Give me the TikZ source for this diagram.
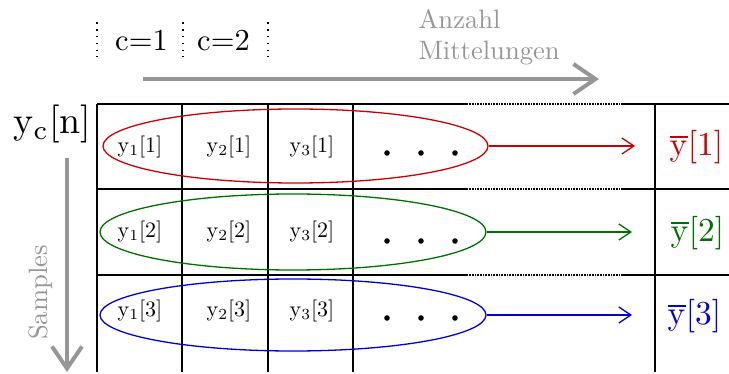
\documentclass[tikz,border=0pt]{standalone}
\usetikzlibrary{shapes.geometric,arrows.meta}
\definecolor{cred}{RGB}{204,0,0}
\definecolor{cgreen}{RGB}{0,112,0}
\definecolor{cblue}{RGB}{0,0,210}
\definecolor{cgray}{RGB}{150,150,150}
\begin{document}
\begin{tikzpicture}[x=1pt,y=-1pt,
  grid/.style={line width=1.2pt,black},
  gridfine/.style={line width=1.2pt,black,dash pattern=on 0.8pt off 0.8pt},
  topdot/.style={line width=1.3pt,black,dash pattern=on 1.3pt off 5.5pt},
  cell/.style={inner sep=0pt,anchor=base,scale=2.2},
  res/.style={inner sep=0pt,anchor=base,scale=3.35},
  ring/.style={ellipse,draw,line width=1.3pt,inner sep=0pt},
  outarrow/.style={line width=1.3pt,-{Straight Barb[length=12pt,width=16pt]}},
  bigarrow/.style={line width=4pt,cgray,-{Straight Barb[length=22pt,width=30pt]}},
  graytext/.style={cgray,inner sep=0pt,scale=2.66},
  dotmark/.style={circle,fill=black,inner sep=0pt,minimum size=5.6pt}]
\useasboundingbox (0,0) rectangle (729,374);

% table
\foreach \x in {97,182,268,353,655}
  \draw[grid] (\x,104) -- (\x,372);
\foreach \y in {104,189,275}{
  \draw[grid] (97,\y) -- (467,\y);
  \draw[gridfine] (467,\y) -- (622,\y);
  \draw[grid] (622,\y) -- (729,\y);
}

% top column markers
\foreach \x in {97,183,268}
  \draw[topdot] (\x,22.5) -- (\x,57);
\node[inner sep=0pt,anchor=base,scale=3.05] (c1) at (141.5,51) {c=1};
\node[inner sep=0pt,anchor=base,scale=3.05] (c2) at (223.5,51) {c=2};

% gray arrows and labels
\coordinate (hs) at (143,79);
\coordinate (he) at (599,79);
\draw[bigarrow] (hs) -- (he);
\node[graytext,anchor=north west,align=left] (anz) at (418,8.5) {Anzahl\\Mittelungen};
\coordinate (vs) at (67,158);
\coordinate (ve) at (67,372);
\draw[bigarrow] (vs) -- (ve);
\node[graytext,anchor=base,rotate=90] (samp) at (47,292.5) {Samples};

\node[inner sep=0pt,anchor=base,scale=3.8] (yc) at (52.5,133.5) {y$_\mathrm{c}$[n]};

% cells
\node[cell] (y11) at (140,152.5) {y$_1$[1]};
\node[cell] (y21) at (229,152.5) {y$_2$[1]};
\node[cell] (y31) at (312,152.5) {y$_3$[1]};
\node[cell] (y12) at (140,237.5) {y$_1$[2]};
\node[cell] (y22) at (229,237.5) {y$_2$[2]};
\node[cell] (y32) at (312,237.5) {y$_3$[2]};
\node[cell] (y13) at (140,316.5) {y$_1$[3]};
\node[cell] (y23) at (229,316.5) {y$_2$[3]};
\node[cell] (y33) at (312,316.5) {y$_3$[3]};

% dots
\foreach \r/\y in {1/153,2/241,3/318}{
  \node[dotmark] (d\r a) at (387,\y) {};
  \node[dotmark] (d\r b) at (421,\y) {};
  \node[dotmark] (d\r c) at (455,\y) {};
}

% ellipses
\node[ring,cred,minimum width=385pt,minimum height=74pt] (e1) at (295.5,146) {};
\node[ring,cgreen,minimum width=386pt,minimum height=76pt] (e2) at (293,232) {};
\node[ring,cblue,minimum width=386pt,minimum height=72pt] (e3) at (293,315) {};

% results
\coordinate (a1) at (635,146);
\coordinate (a2) at (632,232);
\coordinate (a3) at (632,315);
\draw[outarrow,cred] (e1.east) -- (a1);
\draw[outarrow,cgreen] (e2.east) -- (a2);
\draw[outarrow,cblue] (e3.east) -- (a3);
\node[res,cred] (m1) at (696.5,156) {$\overline{\mathrm{y}}$[1]};
\node[res,cgreen] (m2) at (697.5,242) {$\overline{\mathrm{y}}$[2]};
\node[res,cblue] (m3) at (694.5,325) {$\overline{\mathrm{y}}$[3]};
\end{tikzpicture}
\end{document}
